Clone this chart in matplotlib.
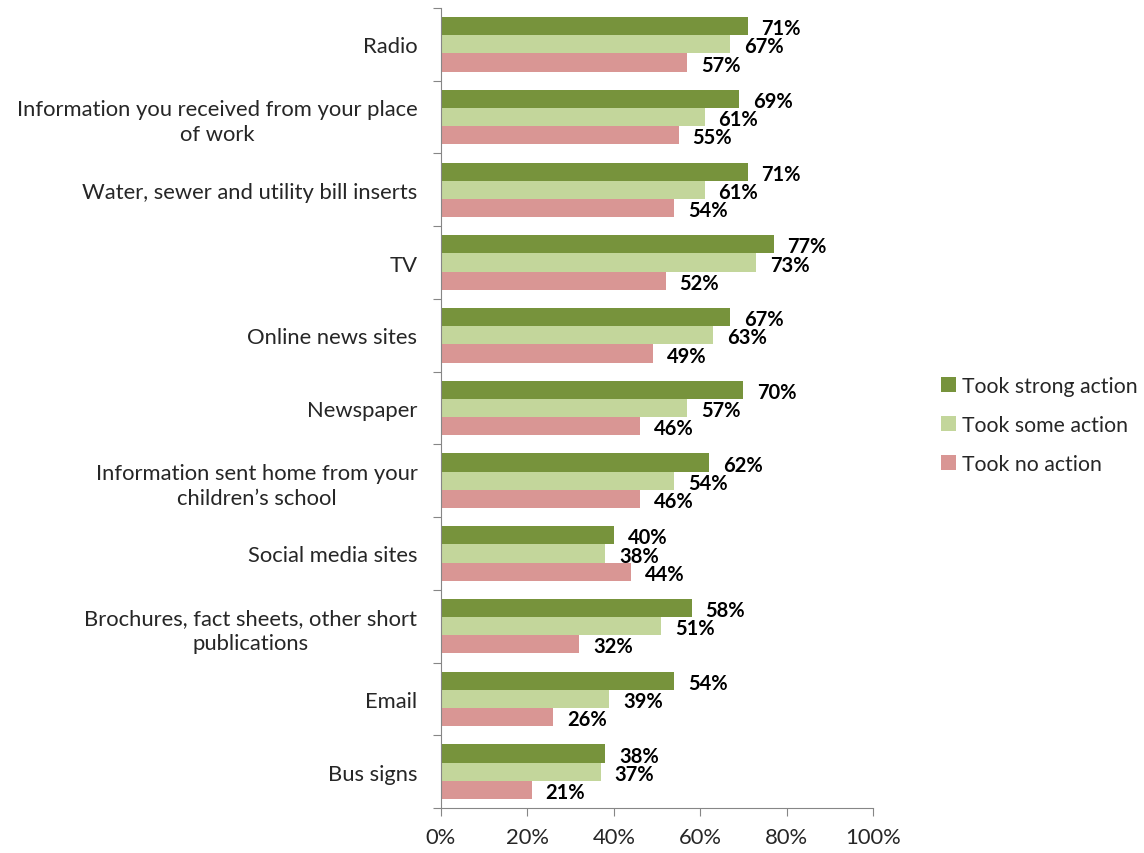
import matplotlib
matplotlib.use("Agg")
import matplotlib.pyplot as plt
import numpy as np
from matplotlib.patches import Patch

categories = [
    "Radio",
    "Information you received from your place\nof work",
    "Water, sewer and utility bill inserts",
    "TV",
    "Online news sites",
    "Newspaper",
    "Information sent home from your\nchildren\u2019s school",
    "Social media sites",
    "Brochures, fact sheets, other short\npublications",
    "Email",
    "Bus signs",
]
strong = [71, 69, 71, 77, 67, 70, 62, 40, 58, 54, 38]
some = [67, 61, 61, 73, 63, 57, 54, 38, 51, 39, 37]
none_ = [57, 55, 54, 52, 49, 46, 46, 44, 32, 26, 21]
series_names = ["Took strong action", "Took some action", "Took no action"]
colors = ["#77933C", "#C3D69B", "#D99694"]
xticks = [0, 20, 40, 60, 80, 100]

plt.rcParams['font.family'] = ['Lato', 'DejaVu Sans']

fig = plt.figure(figsize=(11.44, 8.54), dpi=100)
ax = fig.add_axes([441/1144, 1-809/854, (873-441)/1144, (809-9)/854])

y = np.arange(len(categories))
h = 0.25
txtc = "#262626"
fs = 15.8
for k, (vals, col) in enumerate(zip([strong, some, none_], colors)):
    pos = y + (k - 1) * h
    ax.barh(pos, vals, height=h, color=col, edgecolor='none')
    for p, v in zip(pos, vals):
        ax.annotate(f"{v}%", xy=(v, p), xytext=(10, -1.5), textcoords='offset points',
                    ha='left', va='center', fontsize=14.5, fontweight='bold', color='black')

ax.set_xlim(0, 100)
ax.set_ylim(len(categories) - 0.5, -0.5)
ax.set_xticks(xticks)
ax.set_xticklabels([f"{t}%" for t in xticks], fontsize=fs, color=txtc)
ax.set_yticks(np.arange(-0.5, len(categories), 1.0), minor=False)
ax.set_yticklabels([])
ax.set_yticks(y, minor=True)
ax.set_yticklabels(categories, minor=True, fontsize=fs, color=txtc,
                   multialignment='center', linespacing=1.3)
ax.tick_params(axis='y', which='minor', length=0, pad=17)
ax.tick_params(axis='y', which='major', length=6, color='#868686', direction='out')
ax.tick_params(axis='x', length=6, color='#868686', direction='out', pad=8)
for s in ['top', 'right']:
    ax.spines[s].set_visible(False)
for s in ['left', 'bottom']:
    ax.spines[s].set_color('#868686')

handles = [Patch(facecolor=c, edgecolor='none') for c in colors]
fig.legend(handles, series_names, loc='center left', bbox_to_anchor=(922/1144, 1-426/854),
           frameon=False, fontsize=15.3, handlelength=0.7, handleheight=0.7,
           handletextpad=0.3, labelspacing=0.9, labelcolor=txtc)

fig.savefig("out.png", dpi=100)
